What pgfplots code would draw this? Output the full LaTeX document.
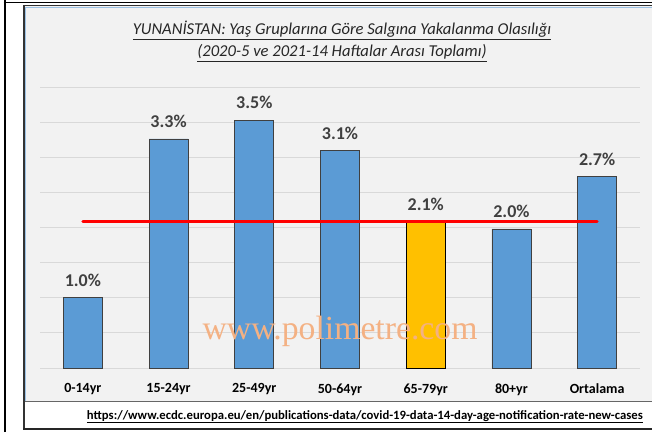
\documentclass[border=0pt]{standalone}
\usepackage{pgfplots}
\pgfplotsset{compat=1.18}
\usepackage{fontspec}
\setmainfont{Carlito}
\newfontfamily\wmfont{Liberation Serif}
\definecolor{barblue}{HTML}{5B9BD5}
\definecolor{baryel}{HTML}{FFC000}
\definecolor{chartbg}{HTML}{F2F2F2}
\definecolor{gridc}{HTML}{D9D9D9}
\definecolor{lblc}{HTML}{404040}
\definecolor{wm}{HTML}{F4B183}
\definecolor{edgeblue}{HTML}{9DC3E6}
\begin{document}
\begin{tikzpicture}[x=1pt,y=1pt]
\fill[white] (0,0) rectangle (652,432);
% chart area
\fill[chartbg] (23,31) rectangle (652,427);
\draw[black!80, line width=1.5] (23.75,3) -- (23.75,426.25) -- (652,426.25);
\draw[edgeblue, line width=0.8] (25.2,31) -- (25.2,425) -- (652,425);
\draw[black!60, line width=0.8] (24.5,31) -- (652,31);
% outer frame
\draw[black, line width=2.5] (4.75,0) -- (4.75,432);
\draw[black, line width=1.8] (3.5,429.5) -- (652,429.5);
\draw[black!85, line width=2] (23,3) -- (652,3);
% titles
\node[font=\itshape\fontsize{16.6}{16.6}\selectfont, text=black!85, anchor=base] at (342,397) {\underline{YUNANİSTAN: Yaş Gruplarına Göre Salgına Yakalanma Olasılığı}};
\node[font=\itshape\fontsize{16.6}{16.6}\selectfont, text=black!85, anchor=base] at (342,375) {\underline{(2020-5 ve 2021-14 Haftalar Arası Toplamı)}};
\begin{axis}[at={(40pt,64pt)}, anchor=south west, scale only axis,
  width=600pt, height=281pt,
  xmin=-0.5, xmax=6.5, ymin=0, ymax=4,
  ybar, bar width=39pt, bar shift=0pt,
  axis line style={draw=none}, major tick length=0pt,
  ytick={0,0.5,1,1.5,2,2.5,3,3.5,4}, yticklabels={},
  ymajorgrids, grid style={gridc, line width=1},
  xtick={0,1,2,3,4,5,6},
  xticklabels={0-14yr,15-24yr,25-49yr,50-64yr,65-79yr,80+yr,Ortalama},
  xticklabel style={font=\bfseries\fontsize{14}{14}\selectfont, yshift=-12pt},
  /pgf/number format/assume math mode=true,
  clip=false]
\addplot[fill=barblue, draw=black!75, line width=0.8,
  nodes near coords={\pgfmathprintnumber[fixed,fixed zerofill,precision=1]{\pgfplotspointmeta}\%},
  every node near coord/.append style={font=\bfseries\fontsize{18}{18}\selectfont, text=lblc, anchor=south, inner sep=0pt, yshift=10.5pt}]
  coordinates {(0,1.00) (1,3.26) (2,3.53) (3,3.10) (5,1.98) (6,2.73)};
\addplot[fill=baryel, draw=black, line width=0.8,
  nodes near coords={\pgfmathprintnumber[fixed,fixed zerofill,precision=1]{\pgfplotspointmeta}\%},
  every node near coord/.append style={font=\bfseries\fontsize{18}{18}\selectfont, text=lblc, anchor=south, inner sep=0pt, yshift=10.5pt}]
  coordinates {(4,2.08)};
\addplot[sharp plot, red, line width=3pt, line cap=round] coordinates {(0,2.09) (6,2.09)};
\end{axis}
\node[font=\wmfont\fontsize{33.7}{33.7}\selectfont, text=wm] at (340,101) {www.polimetre.com};
\node[font=\bfseries\fontsize{12.7}{12.7}\selectfont, anchor=base east, inner sep=0pt] at (643,13) {\underline{https://www.ecdc.europa.eu/en/publications-data/covid-19-data-14-day-age-notification-rate-new-cases}};
\pgfresetboundingbox
\path[use as bounding box] (0,0) rectangle (652,432);
\end{tikzpicture}
\end{document}
